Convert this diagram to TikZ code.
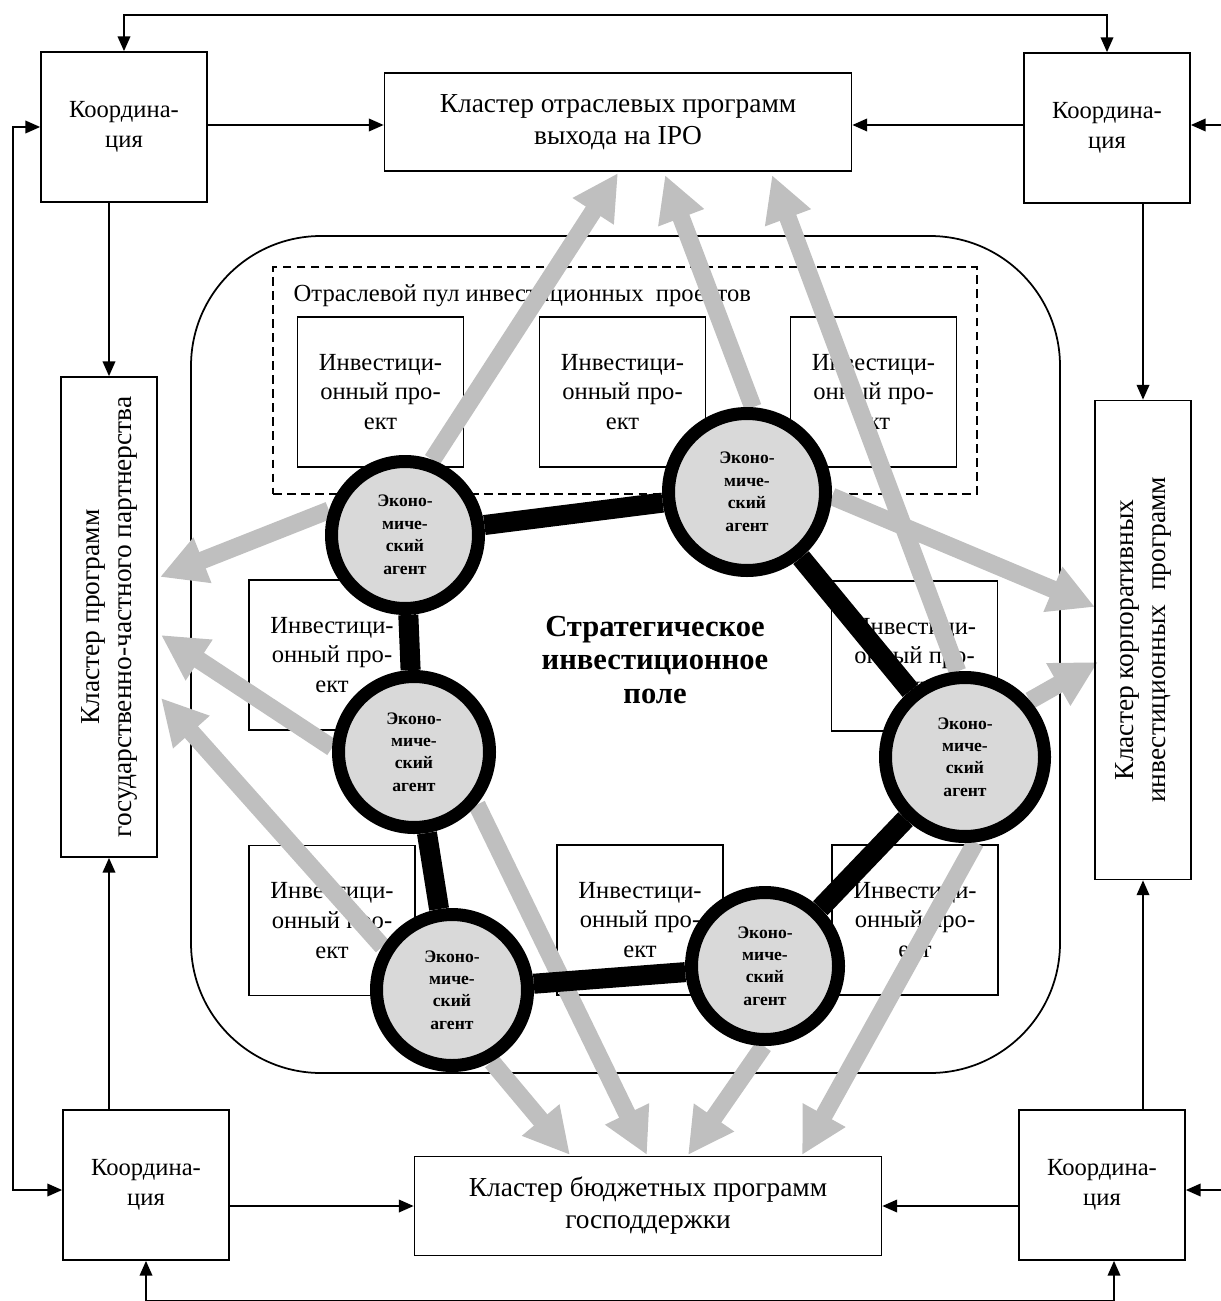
\documentclass[tikz,border=0pt]{standalone}
\usepackage{fontspec}
\setmainfont{Liberation Serif}
\usetikzlibrary{arrows.meta}
\pgfdeclarelayer{back}
\pgfdeclarelayer{mid}
\pgfsetlayers{back,mid,main}

\tikzset{
  conn/.style={line width=0.45pt,-{Triangle[length=4.2pt,width=3.6pt]}},
  twoway/.style={line width=0.45pt,{Triangle[length=4.2pt,width=3.6pt]}-{Triangle[length=4.2pt,width=3.6pt]}},
  box/.style={draw,line width=0.5pt,align=center,inner sep=1pt,font=\fontsize{7}{8.5}\selectfont},
  coordbox/.style={box,minimum width=16.6mm,minimum height=15mm},
  projbox/.style={box,minimum width=16.6mm,minimum height=15mm},
  clusterbox/.style={box,font=\fontsize{7.8}{9.1}\selectfont},
  agent/.style={circle,draw,line width=3.7pt,fill=black!15,align=center,inner sep=0pt,font=\bfseries\fontsize{5}{6.4}\selectfont},
  flow/.style={black!25,line width=5pt,-{Triangle[length=13pt,width=13pt]}},
  tie/.style={line width=5.7pt}
}

\begin{document}
\begin{tikzpicture}[x=0.1mm,y=-0.1mm]
  \useasboundingbox (0,0) rectangle (1221,1301);

  \node[coordbox] (ctl) at (124,127) {Координа-\\ция};
  \node[coordbox] (ctr) at (1107,128) {Координа-\\ция};
  \node[coordbox] (cbl) at (146,1185) {Координа-\\ция};
  \node[coordbox] (cbr) at (1102,1185) {Координа-\\ция};

  \node[clusterbox,minimum width=46.7mm,minimum height=9.8mm] (ipo) at (618,122) {Кластер отраслевых программ\\выхода на IPO};
  \node[clusterbox,minimum width=46.7mm,minimum height=9.9mm] (bud) at (648,1206) {Кластер бюджетных программ\\господдержки};
  \node[clusterbox,rotate=90,minimum width=48mm,minimum height=9.6mm] (ppp) at (109,617) {Кластер программ\\государственно-частного партнерства};
  \node[clusterbox,rotate=90,minimum width=47.9mm,minimum height=9.6mm] (corp) at (1143,640) {Кластер корпоративных\\инвестиционных\ \ программ};

  \begin{pgfonlayer}{back}
    \node[draw,line width=0.5pt,rounded corners=13mm,minimum width=86.9mm,minimum height=83.7mm] (field) at (625.5,654.5) {};
    \node[draw,line width=0.5pt,dash pattern=on 2.5pt off 1.5pt,minimum width=70.4mm,minimum height=22.7mm] (pool) at (625,380.5) {};
    \node[anchor=west,inner sep=0pt,font=\fontsize{7}{8.5}\selectfont] (poollbl) at (293,296) {Отраслевой пул инвестиционных\ \ проектов};
    \node[projbox] (p1) at (380.5,392) {Инвестици-\\онный про-\\ект};
    \node[projbox] (p2) at (622.5,392) {Инвестици-\\онный про-\\ект};
    \node[projbox] (p3) at (873.5,392) {Инвестици-\\онный про-\\ект};
    \node[projbox] (p4) at (332,655) {Инвестици-\\онный про-\\ект};
    \node[projbox] (p5) at (914.5,656) {Инвестици-\\онный про-\\ект};
    \node[projbox] (p6) at (332,920.5) {Инвестици-\\онный про-\\ект};
    \node[projbox] (p7) at (640,920) {Инвестици-\\онный про-\\ект};
    \node[projbox] (p8) at (915,920) {Инвестици-\\онный про-\\ект};
  \end{pgfonlayer}

  \node[align=center,font=\bfseries\fontsize{8.7}{9.4}\selectfont] (fieldlbl) at (655,660) {Стратегическое\\инвестиционное\\поле};

  \node[agent,minimum size=14.7mm] (ag1) at (405,535) {Эконо-\\миче-\\ский\\агент};
  \node[agent,minimum size=15.7mm] (ag2) at (747,492) {Эконо-\\миче-\\ский\\агент};
  \node[agent,minimum size=15.1mm] (ag3) at (414,752) {Эконо-\\миче-\\ский\\агент};
  \node[agent,minimum size=15.9mm] (ag4) at (965,757) {Эконо-\\миче-\\ский\\агент};
  \node[agent,minimum size=15.1mm] (ag5) at (452,990) {Эконо-\\миче-\\ский\\агент};
  \node[agent,minimum size=14.7mm] (ag6) at (765,966) {Эконо-\\миче-\\ский\\агент};

  \coordinate (t1) at (618,173);
  \coordinate (t2) at (665,175);
  \coordinate (t3) at (772,175);
  \coordinate (t4) at (160,577);
  \coordinate (t5) at (161,635);
  \coordinate (t6) at (161,698);
  \coordinate (t7) at (1095,607);
  \coordinate (t8) at (1098,662);
  \coordinate (t9) at (647,1155);
  \coordinate (t10) at (570,1155);
  \coordinate (t11) at (688,1155);
  \coordinate (t12) at (802,1155);

  \begin{pgfonlayer}{mid}
    \draw[flow] (ag1.70) -- (t1);
    \draw[flow] (ag2.86) -- (t2);
    \draw[flow] (ag4.95) -- (t3);
    \draw[flow] (ag1.162) -- (t4);
    \draw[flow] (ag3.177) -- (t5);
    \draw[flow] (ag5.148) -- (t6);
    \draw[flow] (ag2.-3) -- (t7);
    \draw[flow] (ag4.41) -- (t8);
    \draw[flow] (ag3.-40) -- (t9);
    \draw[flow] (ag5.-61) -- (t10);
    \draw[flow] (ag6.-91) -- (t11);
    \draw[flow] (ag4.-83) -- (t12);

    \draw[tie] (ag1) -- (ag2);
    \draw[tie] (ag1) -- (ag3);
    \draw[tie] (ag3) -- (ag5);
    \draw[tie] (ag5) -- (ag6);
    \draw[tie] (ag6) -- (ag4);
    \draw[tie] (ag4) -- (ag2);
  \end{pgfonlayer}

  \draw[conn] (ctl.east |- 0,125) -- (ipo.west |- 0,125);
  \draw[conn] (ctr.west |- 0,125) -- (ipo.east |- 0,125);
  \draw[conn] (cbl.east |- bud) -- (bud.west);
  \draw[conn] (cbr.west |- bud) -- (bud.east);
  \draw[conn] (ctl.south -| ppp) -- (ppp.east);
  \draw[conn] (ctr.south -| corp) -- (corp.east);
  \draw[conn] (cbl.north -| ppp) -- (ppp.west);
  \draw[conn] (cbr.north -| corp) -- (corp.west);

  \coordinate (fbtop) at (0,15);
  \coordinate (fbleft) at (13,0);
  \coordinate (fbr1) at (1221,125);
  \coordinate (fbr2) at (1221,1190);
  \coordinate (fbb1) at (146,1300.5);
  \coordinate (fbb2) at (1114,1300.5);

  \draw[twoway] (ctl.north) -- (ctl.north |- fbtop) -| (ctr.north);
  \draw[twoway] (ctl.west) -- (ctl.west -| fbleft) |- (cbl.west |- fbr2);
  \draw[conn] (fbr1) -- (ctr.east |- fbr1);
  \draw[conn] (fbr2) -- (cbr.east |- fbr2);
  \draw[twoway] (cbl.south -| fbb1) -- (fbb1) -- (fbb2) -- (cbr.south -| fbb2);
\end{tikzpicture}
\end{document}
